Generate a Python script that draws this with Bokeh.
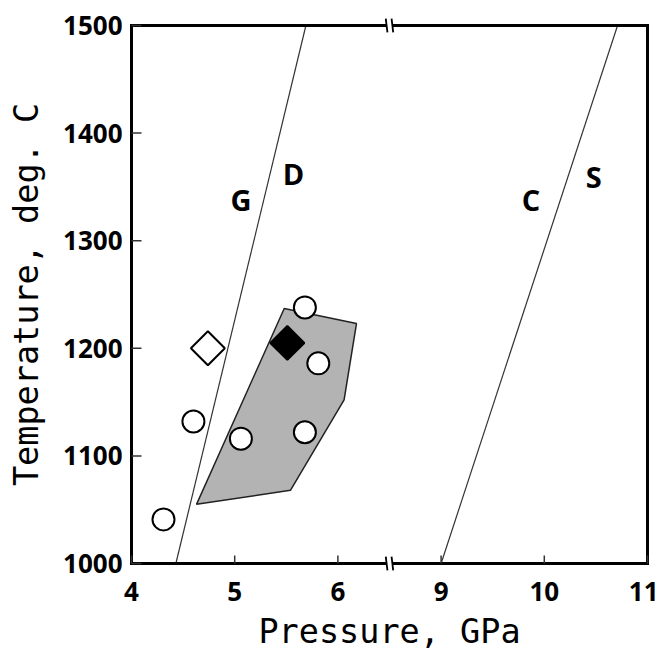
import math
from bokeh.plotting import figure
from bokeh.models import FixedTicker, Range1d, ColumnDataSource
from bokeh.embed import file_html
from bokeh.resources import INLINE
from bokeh.core.properties import value

# ---- axis break (pressure axis jumps from 6.5 to 8.5 GPa) ----
BREAK_LO = 6.5
BREAK_HI = 8.5
GAP = BREAK_HI - BREAK_LO


def tx(v):
    return v if v <= BREAK_LO else v - GAP


# ---- data ----
x_tick_labels = [4, 5, 6, 9, 10, 11]
y_ticks = [1000, 1100, 1200, 1300, 1400, 1500]

circle_p = [4.31, 4.60, 5.06, 5.68, 5.81, 5.68]
circle_t = [1041, 1132, 1116, 1122, 1186, 1238]

open_diamond_p = [4.74]
open_diamond_t = [1200]

filled_diamond_p = [5.51]
filled_diamond_t = [1205]

field_p = [5.48, 6.18, 6.06, 5.54, 4.63]
field_t = [1237, 1223, 1152, 1068, 1055]

gd_p = [4.43, 5.69]
gd_t = [1000, 1500]

cs_p = [9.0, 10.71]
cs_t = [1000, 1500]

label_text = ["G", "D", "C", "S"]
label_p = [5.06, 5.57, 9.87, 10.48]
label_t = [1338, 1362, 1338, 1360]

X_MIN, X_MAX = 4, 11
Y_MIN, Y_MAX = 1000, 1500

# plot box 516 x 538 px; frame padded by 8 px so the border and break marks are not clipped
BOX_W, BOX_H, PAD = 516, 538, 8
pad_x = PAD * (tx(X_MAX) - tx(X_MIN)) / BOX_W
pad_y = PAD * (Y_MAX - Y_MIN) / BOX_H

p = figure(frame_width=BOX_W + 2 * PAD, frame_height=BOX_H + 2 * PAD,
           x_range=Range1d(tx(X_MIN) - pad_x, tx(X_MAX) + pad_x),
           y_range=Range1d(Y_MIN - pad_y, Y_MAX + pad_y),
           output_backend="svg", toolbar_location=None,
           min_border_left=123, min_border_right=3,
           min_border_top=17, min_border_bottom=80)

p.grid.visible = False
p.outline_line_alpha = 0

# field (shaded polygon)
p.patch([tx(v) for v in field_p], field_t, fill_color="#b3b3b3",
        line_color="#222222", line_width=1.5)

# phase boundaries
p.line([tx(v) for v in gd_p], gd_t, line_color="#333333", line_width=1.2)
p.line([tx(v) for v in cs_p], cs_t, line_color="#333333", line_width=1.2)

# border box
p.quad(left=[tx(X_MIN)], right=[tx(X_MAX)], bottom=[Y_MIN], top=[Y_MAX],
       fill_alpha=0, line_color="black", line_width=3, line_join="miter")

# inward tick marks
x_ticks_t = [tx(v) for v in x_tick_labels]
p.ray([tx(X_MIN)] * len(y_ticks), y_ticks, length=10, length_units="screen",
      angle=0, line_color="#333333", line_width=1.5)
p.ray(x_ticks_t, [Y_MIN] * len(x_ticks_t), length=8, length_units="screen",
      angle=math.pi / 2, line_color="#333333", line_width=1.5)

# axis-break marks on top and bottom borders
p.rect([BREAK_LO, BREAK_LO], [Y_MIN, Y_MAX], width=6, height=10,
       width_units="screen", height_units="screen", fill_color="white",
       line_alpha=0)
for off in (-0.028, 0.028):
    p.scatter([BREAK_LO + off] * 2, [Y_MIN, Y_MAX], marker="dash",
              angle=math.pi / 2 + 0.12, size=14, line_color="black",
              line_width=1.8)

# experimental points
p.scatter([tx(v) for v in circle_p], circle_t, marker="circle", size=22,
          fill_color="white", line_color="black", line_width=2)
p.scatter([tx(v) for v in open_diamond_p], open_diamond_t, marker="square",
          angle=math.pi / 4, size=24, fill_color="white", line_color="black",
          line_width=2)
p.scatter([tx(v) for v in filled_diamond_p], filled_diamond_t, marker="square",
          angle=math.pi / 4, size=24, fill_color="black", line_color="black",
          line_width=2)

# curve labels
src = ColumnDataSource(dict(x=[tx(v) for v in label_p], y=label_t, t=label_text))
p.text(x="x", y="y", text="t", source=src, text_font=value("Open Sans"),
       text_font_style="bold", text_font_size="29px", text_align="center",
       text_baseline="middle", text_color="black")

# axes (labels only; lines and ticks drawn above)
p.xaxis.ticker = FixedTicker(ticks=x_ticks_t)
p.xaxis.major_label_overrides = {t: str(l) for t, l in zip(x_ticks_t, x_tick_labels)}
p.yaxis.ticker = FixedTicker(ticks=y_ticks)

for ax in (p.xaxis[0], p.yaxis[0]):
    ax.axis_line_alpha = 0
    ax.major_tick_in = 0
    ax.major_tick_out = 0
    ax.minor_tick_in = 0
    ax.minor_tick_out = 0
    ax.major_label_text_font = "Open Sans"
    ax.major_label_text_font_style = "bold"
    ax.major_label_text_font_size = "26px"
    ax.major_label_text_color = "black"
    ax.axis_label_text_font = "DejaVu Sans Mono"
    ax.axis_label_text_font_style = "normal"
    ax.axis_label_text_font_size = "33.5px"
    ax.axis_label_text_color = "black"

p.xaxis.major_label_standoff = 10
p.yaxis.major_label_standoff = 1
p.xaxis.axis_label = "Pressure, GPa"
p.yaxis.axis_label = "Temperature, deg. C"
p.xaxis.axis_label_standoff = 8
p.yaxis.axis_label_standoff = 14

open("out.html", "w").write(file_html(p, INLINE))
